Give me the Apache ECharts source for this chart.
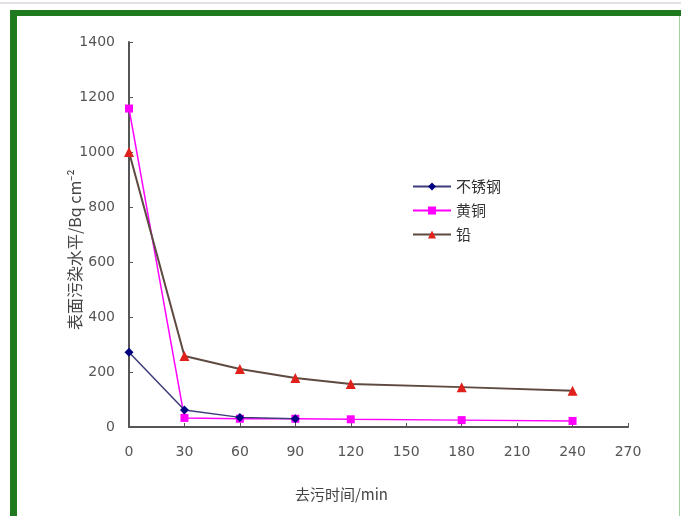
<!DOCTYPE html>
<html>
<head>
<meta charset="utf-8">
<script src="https://cdn.jsdelivr.net/npm/echarts@6/dist/echarts.min.js"></script>
<style>
  html, body { margin: 0; padding: 0; background: #ffffff; }
  #chart { width: 681px; height: 516px; }
</style>
</head>
<body>
<div id="chart"></div>
<script>
// Decontamination time (min) and surface contamination level (Bq/cm²)
const seriesNames = ['不锈钢', '黄铜', '铅'];
const stainlessTime = [0, 30, 60, 90];
const stainlessLevel = [272, 62, 35, 30];
const brassTime = [0, 30, 60, 90, 120, 180, 240];
const brassLevel = [1158, 33, 30, 30, 28, 25, 22];
const leadTime = [0, 30, 60, 90, 120, 180, 240];
const leadLevel = [1000, 258, 211, 178, 156, 145, 132];
const xTicks = [0, 30, 60, 90, 120, 150, 180, 210, 240, 270];
const yTicks = [0, 200, 400, 600, 800, 1000, 1200, 1400];

const pairs = (xs, ys) => xs.map((x, i) => [x, ys[i]]);

const chart = echarts.init(document.getElementById('chart'), null, { renderer: 'canvas' });

const labelFont = { color: '#555', fontSize: 14, fontFamily: 'DejaVu Sans' };

chart.setOption({
  backgroundColor: '#ffffff',
  animation: false,
  graphic: [
    { type: 'rect', shape: { x: 0, y: 2, width: 681, height: 2 }, style: { fill: '#e6dfe6' } },
    { type: 'rect', shape: { x: 10, y: 10, width: 671, height: 6 }, style: { fill: '#1f7a1f' } },
    { type: 'rect', shape: { x: 10, y: 10, width: 7, height: 506 }, style: { fill: '#1f7a1f' } },
    { type: 'rect', shape: { x: 679, y: 16, width: 1, height: 500 }, style: { fill: '#9fd49f' } }
  ],
  grid: { left: 129, right: 53, top: 42, bottom: 89, containLabel: false },
  legend: {
    orient: 'vertical',
    left: 407,
    top: 174,
    itemGap: 9,
    itemWidth: 38,
    itemHeight: 10,
    textStyle: { color: '#333', fontSize: 15, fontFamily: 'Noto Sans CJK SC' },
    data: seriesNames
  },
  xAxis: {
    type: 'value',
    min: 0,
    max: 270,
    interval: 30,
    name: '去污时间/min',
    nameLocation: 'middle',
    nameGap: 60,
    nameMoveOverlap: false,
    nameTextStyle: { color: '#444', fontSize: 15, fontFamily: 'Noto Sans CJK SC', padding: [0, 74, 0, 0] },
    axisLine: { show: true, lineStyle: { color: '#555', width: 2 } },
    axisTick: { show: true, inside: true, length: 4, lineStyle: { color: '#555' } },
    axisLabel: Object.assign({ margin: 18, formatter: v => String(v) }, labelFont),
    splitLine: { show: false }
  },
  yAxis: {
    type: 'value',
    min: 0,
    max: 1400,
    interval: 200,
    name: '表面污染水平/Bq cm⁻²',
    nameLocation: 'middle',
    nameGap: 46,
    nameMoveOverlap: false,
    nameRotate: 90,
    nameTextStyle: { color: '#444', fontSize: 16, fontFamily: 'Noto Sans CJK SC', padding: [0, 30, 0, 0] },
    axisLine: { show: true, lineStyle: { color: '#555', width: 2 } },
    axisTick: { show: true, inside: true, length: 4, lineStyle: { color: '#555' } },
    axisLabel: Object.assign({ margin: 14, formatter: v => String(v) }, labelFont),
    splitLine: { show: false }
  },
  series: [
    {
      name: seriesNames[0],
      type: 'line',
      data: pairs(stainlessTime, stainlessLevel),
      symbol: 'diamond',
      symbolSize: 9,
      itemStyle: { color: '#000080' },
      lineStyle: { color: '#3c3c7a', width: 1.5 },
      z: 3
    },
    {
      name: seriesNames[1],
      type: 'line',
      data: pairs(brassTime, brassLevel),
      symbol: 'rect',
      symbolSize: 8,
      itemStyle: { color: '#ff00ff' },
      lineStyle: { color: '#ff00ff', width: 1.5 },
      z: 2
    },
    {
      name: seriesNames[2],
      type: 'line',
      data: pairs(leadTime, leadLevel),
      symbol: 'triangle',
      symbolSize: 10,
      itemStyle: { color: '#e0201a' },
      lineStyle: { color: '#5e4a40', width: 2 },
      z: 2
    }
  ]
});
</script>
</body>
</html>
